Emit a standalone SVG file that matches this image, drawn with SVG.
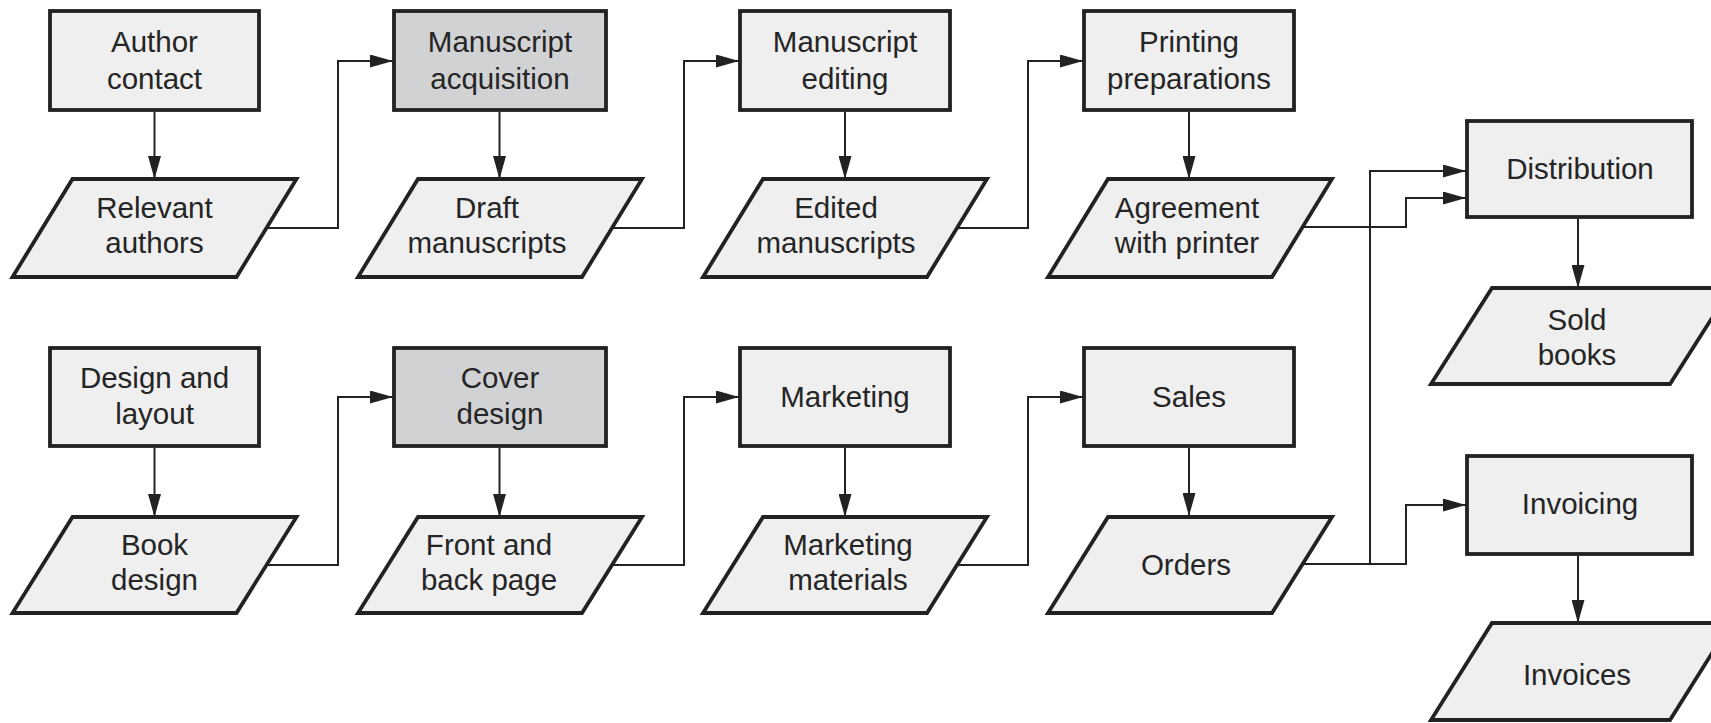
<svg xmlns="http://www.w3.org/2000/svg" width="1711" height="723" viewBox="0 0 1711 723">
  <defs>
    <marker id="arrow" markerUnits="userSpaceOnUse" markerWidth="23" markerHeight="13" refX="23" refY="6.5" orient="auto">
      <path d="M0,0 L23,6.5 L0,13 z" fill="#222"/>
    </marker>
    <style>
      .box { fill: #efefef; stroke: #222; stroke-width: 3.8; stroke-linejoin: miter; }
      .box.dark { fill: #d1d2d4; }
      .data { fill: #efefef; stroke: #222; stroke-width: 3.8; stroke-linejoin: miter; }
      .lbl { font-family: "Liberation Sans", Arial, Helvetica, sans-serif; font-size: 29.5px; fill: #252525; text-anchor: middle; }
      .conn { fill: none; stroke: #222; stroke-width: 2; }
      .conn.arr { marker-end: url(#arrow); }
    </style>
  </defs>
  <rect width="1711" height="723" fill="#ffffff"/>

  <!-- Connectors -->
  <g id="connectors">
    <!-- process to output, top row -->
    <path class="conn arr" d="M154.5,112 V179"/>
    <path class="conn arr" d="M499.5,112 V179"/>
    <path class="conn arr" d="M845,112 V179"/>
    <path class="conn arr" d="M1189,112 V179"/>
    <!-- process to output, bottom row -->
    <path class="conn arr" d="M154.5,448 V517"/>
    <path class="conn arr" d="M499.5,448 V517"/>
    <path class="conn arr" d="M845,448 V517"/>
    <path class="conn arr" d="M1189,448 V516"/>
    <!-- right column -->
    <path class="conn arr" d="M1578,219 V288"/>
    <path class="conn arr" d="M1578,556 V623"/>
    <!-- output to next process, top row -->
    <path class="conn arr" d="M266,228 H338 V61 H393"/>
    <path class="conn arr" d="M612,228 H684 V61 H739"/>
    <path class="conn arr" d="M957,228 H1028 V61 H1083"/>
    <!-- output to next process, bottom row -->
    <path class="conn arr" d="M266,565 H338 V397 H393"/>
    <path class="conn arr" d="M612,565 H684 V397 H739"/>
    <path class="conn arr" d="M957,565 H1028 V397 H1083"/>
    <!-- agreement and orders to distribution / invoicing -->
    <path class="conn arr" d="M1302,227 H1406 V198 H1466"/>
    <path class="conn arr" d="M1302,564 H1406 V505 H1466"/>
    <path class="conn arr" d="M1370,564 V171 H1466"/>
  </g>

  <!-- Top row -->
  <g id="author-contact">
    <rect class="box" x="50" y="11" width="209" height="99"/>
    <text class="lbl" x="154.5" y="52">Author</text>
    <text class="lbl" x="154.5" y="89">contact</text>
  </g>
  <g id="relevant-authors">
    <polygon class="data" points="72.5,179 296.5,179 236.5,277 12.5,277"/>
    <text class="lbl" x="154.5" y="218">Relevant</text>
    <text class="lbl" x="154.5" y="253">authors</text>
  </g>
  <g id="manuscript-acquisition">
    <rect class="box dark" x="394" y="11" width="212" height="99"/>
    <text class="lbl" x="500" y="52">Manuscript</text>
    <text class="lbl" x="500" y="89">acquisition</text>
  </g>
  <g id="draft-manuscripts">
    <polygon class="data" points="418,179 642,179 582,277 358,277"/>
    <text class="lbl" x="487" y="218">Draft</text>
    <text class="lbl" x="487" y="253">manuscripts</text>
  </g>
  <g id="manuscript-editing">
    <rect class="box" x="740" y="11" width="210" height="99"/>
    <text class="lbl" x="845" y="52">Manuscript</text>
    <text class="lbl" x="845" y="89">editing</text>
  </g>
  <g id="edited-manuscripts">
    <polygon class="data" points="763,179 987,179 927,277 703,277"/>
    <text class="lbl" x="836" y="218">Edited</text>
    <text class="lbl" x="836" y="253">manuscripts</text>
  </g>
  <g id="printing-preparations">
    <rect class="box" x="1084" y="11" width="210" height="99"/>
    <text class="lbl" x="1189" y="52">Printing</text>
    <text class="lbl" x="1189" y="89">preparations</text>
  </g>
  <g id="agreement-with-printer">
    <polygon class="data" points="1108,179 1332,179 1272,277 1048,277"/>
    <text class="lbl" x="1187" y="218">Agreement</text>
    <text class="lbl" x="1187" y="253">with printer</text>
  </g>

  <!-- Bottom row -->
  <g id="design-and-layout">
    <rect class="box" x="50" y="348" width="209" height="98"/>
    <text class="lbl" x="154.5" y="388">Design and</text>
    <text class="lbl" x="154.5" y="424">layout</text>
  </g>
  <g id="book-design">
    <polygon class="data" points="72.5,517 296.5,517 236.5,613 12.5,613"/>
    <text class="lbl" x="154.5" y="555">Book</text>
    <text class="lbl" x="154.5" y="590">design</text>
  </g>
  <g id="cover-design">
    <rect class="box dark" x="394" y="348" width="212" height="98"/>
    <text class="lbl" x="500" y="388">Cover</text>
    <text class="lbl" x="500" y="424">design</text>
  </g>
  <g id="front-and-back-page">
    <polygon class="data" points="418,517 642,517 582,613 358,613"/>
    <text class="lbl" x="489" y="555">Front and</text>
    <text class="lbl" x="489" y="590">back page</text>
  </g>
  <g id="marketing">
    <rect class="box" x="740" y="348" width="210" height="98"/>
    <text class="lbl" x="845" y="407">Marketing</text>
  </g>
  <g id="marketing-materials">
    <polygon class="data" points="763,517 987,517 927,613 703,613"/>
    <text class="lbl" x="848" y="555">Marketing</text>
    <text class="lbl" x="848" y="590">materials</text>
  </g>
  <g id="sales">
    <rect class="box" x="1084" y="348" width="210" height="98"/>
    <text class="lbl" x="1189" y="407">Sales</text>
  </g>
  <g id="orders">
    <polygon class="data" points="1108,517 1332,517 1272,613 1048,613"/>
    <text class="lbl" x="1186" y="575">Orders</text>
  </g>

  <!-- Right column -->
  <g id="distribution">
    <rect class="box" x="1467" y="121" width="225" height="96"/>
    <text class="lbl" x="1580" y="179">Distribution</text>
  </g>
  <g id="sold-books">
    <polygon class="data" points="1492,288 1731,288 1670,384 1431,384"/>
    <text class="lbl" x="1577" y="330">Sold</text>
    <text class="lbl" x="1577" y="365">books</text>
  </g>
  <g id="invoicing">
    <rect class="box" x="1467" y="456" width="225" height="98"/>
    <text class="lbl" x="1580" y="514">Invoicing</text>
  </g>
  <g id="invoices">
    <polygon class="data" points="1492,623 1731,623 1670,720 1431,720"/>
    <text class="lbl" x="1577" y="685">Invoices</text>
  </g>
</svg>
